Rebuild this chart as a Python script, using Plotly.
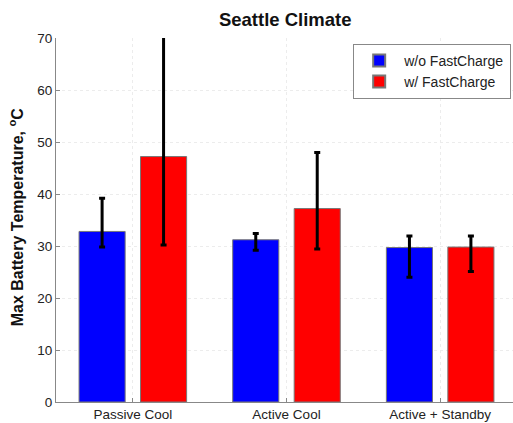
import plotly.graph_objects as go

categories = ["Passive Cool", "Active Cool", "Active + Standby"]
wo_fc = [32.8, 31.2, 29.7]
wo_fc_hi = [39.2, 32.4, 31.9]
wo_fc_lo = [29.8, 29.2, 24.0]
w_fc = [47.2, 37.2, 29.8]
w_fc_hi = [75.0, 48.0, 31.9]
w_fc_lo = [30.2, 29.4, 25.1]

xpos = [1, 2, 3]

def plus(v, hi):
    return [h - x for x, h in zip(v, hi)]

def minus(v, lo):
    return [x - l for x, l in zip(v, lo)]

fig = go.Figure()
fig.add_trace(go.Bar(
    x=xpos, y=wo_fc, name="w/o FastCharge",
    marker=dict(color="#0000ff", line=dict(color="#777777", width=1)),
    error_y=dict(type="data", symmetric=False, array=plus(wo_fc, wo_fc_hi),
                 arrayminus=minus(wo_fc, wo_fc_lo), color="black", thickness=3, width=3),
))
fig.add_trace(go.Bar(
    x=xpos, y=w_fc, name="w/ FastCharge",
    marker=dict(color="#ff0000", line=dict(color="#777777", width=1)),
    error_y=dict(type="data", symmetric=False, array=plus(w_fc, w_fc_hi),
                 arrayminus=minus(w_fc, w_fc_lo), color="black", thickness=3, width=3),
))

fig.update_layout(
    width=513, height=423,
    margin=dict(l=56, r=0, t=38, b=21),
    paper_bgcolor="white", plot_bgcolor="white",
    barmode="group", bargap=0.2, bargroupgap=0.25,
    font=dict(family="Liberation Sans, Arial, sans-serif", size=13.5, color="#222222"),
    title=dict(text="<b>Seattle Climate</b>", x=0.556, xanchor="center", y=0.955, yanchor="middle",
               font=dict(size=18.5, color="#111111")),
    showlegend=True,
    legend=dict(x=0.996, y=0.984, xanchor="right", yanchor="top",
                bordercolor="#888888", borderwidth=1, bgcolor="white",
                font=dict(size=14, color="#222222"), tracegroupgap=0,
                itemsizing="constant", itemwidth=40),
    xaxis=dict(range=[0.5, 3.474], tickmode="array", tickvals=xpos, ticktext=categories,
               showgrid=True, gridcolor="#ececec", griddash="dot", gridwidth=1,
               showline=True, linecolor="#888888", linewidth=1,
               ticks="inside", ticklen=4, tickcolor="#888888", zeroline=False,
               tickfont=dict(size=13.5)),
    yaxis=dict(range=[0, 70], tickvals=[0, 10, 20, 30, 40, 50, 60, 70],
               showgrid=True, gridcolor="#ececec", griddash="dot", gridwidth=1,
               showline=True, linecolor="#888888", linewidth=1,
               ticks="inside", ticklen=4, tickcolor="#888888", zeroline=False,
               tickfont=dict(size=13.5)),
    annotations=[dict(text="<b>Max Battery Temperature, <sup>o</sup>C</b>",
                      xref="paper", yref="paper", x=-0.087, y=0.508,
                      xanchor="center", yanchor="middle", textangle=-90,
                      showarrow=False, font=dict(size=16, color="#111111"))],
)

fig.write_html("out.html")
